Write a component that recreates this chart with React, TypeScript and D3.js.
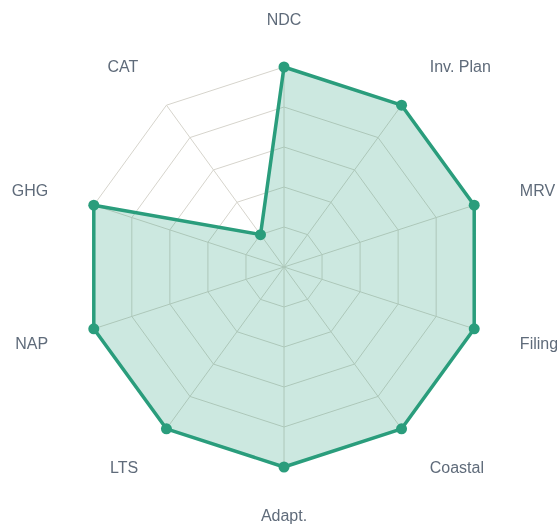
import React, { useEffect, useRef } from "react";
import * as d3 from "d3";

const labels = ["NDC", "Inv. Plan", "MRV", "Filing", "Coastal", "Adapt.", "LTS", "NAP", "GHG", "CAT"];
const values = [100, 100, 100, 100, 100, 100, 100, 100, 100, 20];
const levels = [20, 40, 60, 80, 100];

export default function App() {
	const svgRef = useRef(null);

	useEffect(() => {
		const width = 557;
		const height = 526;
		const cx = 284;
		const cy = 267;
		const radius = 200;
		const green = "#2a9d7c";

		const svg = d3.select(svgRef.current);
		svg.selectAll("*").remove();
		svg.attr("width", width).attr("height", height);

		const r = d3.scaleLinear().domain([0, 100]).range([0, radius]);
		const angle = d3
			.scaleLinear()
			.domain([0, labels.length])
			.range([0, 2 * Math.PI]);

		const g = svg.append("g").attr("transform", `translate(${cx},${cy})`);

		// grid rings
		const ring = d3
			.lineRadial<number>()
			.angle((_, i) => angle(i))
			.radius((d) => r(d))
			.curve(d3.curveLinearClosed);
		g.append("g")
			.attr("fill", "none")
			.attr("stroke", "#d6d4cc")
			.attr("stroke-width", 1)
			.selectAll("path")
			.data(levels)
			.join("path")
			.attr("d", (lv) => ring(labels.map(() => lv)));

		// spokes
		g.append("g")
			.attr("stroke", "#d6d4cc")
			.attr("stroke-width", 1)
			.selectAll("line")
			.data(labels)
			.join("line")
			.attr("x1", 0)
			.attr("y1", 0)
			.attr("x2", (_, i) => r(100) * Math.sin(angle(i)))
			.attr("y2", (_, i) => -r(100) * Math.cos(angle(i)));

		// data area
		g.append("path")
			.attr("d", ring(values))
			.attr("fill", green)
			.attr("fill-opacity", 0.24)
			.attr("stroke", green)
			.attr("stroke-width", 3.5)
			.attr("stroke-linejoin", "round");

		g.append("g")
			.selectAll("circle")
			.data(values)
			.join("circle")
			.attr("cx", (d, i) => r(d) * Math.sin(angle(i)))
			.attr("cy", (d, i) => -r(d) * Math.cos(angle(i)))
			.attr("r", 5.5)
			.attr("fill", green);

		// point labels
		const lr = 248;
		g.append("g")
			.style("font", "16px 'Liberation Sans', Helvetica, Arial, sans-serif")
			.attr("fill", "#5f6b7a")
			.selectAll("text")
			.data(labels)
			.join("text")
			.attr("x", (_, i) => lr * Math.sin(angle(i)))
			.attr("y", (_, i) => -lr * Math.cos(angle(i)))
			.attr("dy", "0.35em")
			.attr("text-anchor", (_, i) => {
				const s = Math.sin(angle(i));
				return Math.abs(s) < 0.05 ? "middle" : s > 0 ? "start" : "end";
			})
			.text((d) => d);
	}, []);

	return <svg ref={svgRef} style={{ position: "fixed", left: 0, top: 0, display: "block" }} />;
}
